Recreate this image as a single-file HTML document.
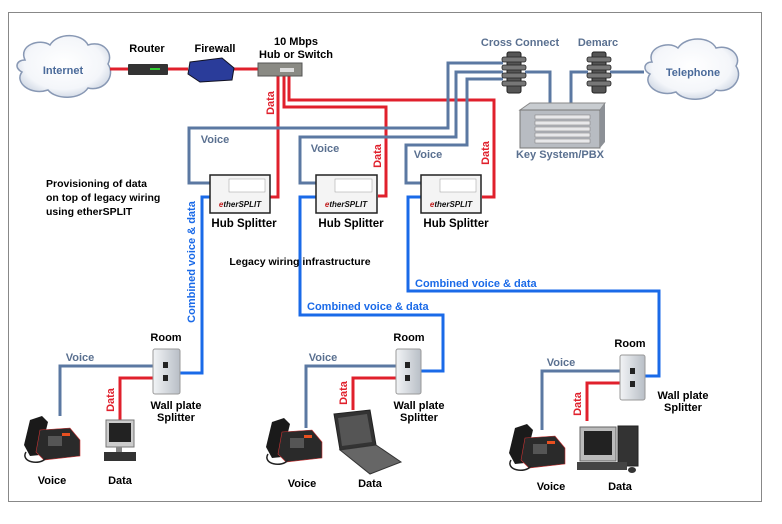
<!DOCTYPE html>
<html><head><meta charset="utf-8"><style>
html,body{margin:0;padding:0;background:#fff;}
svg{display:block;}
text{font-family:"Liberation Sans",sans-serif;font-weight:bold;}
</style></head><body>
<svg width="782" height="524" viewBox="0 0 782 524" xmlns="http://www.w3.org/2000/svg">
<defs>
<radialGradient id="cl" cx="50%" cy="45%" r="60%"><stop offset="0" stop-color="#fff"/><stop offset="0.7" stop-color="#f4f6fa"/><stop offset="1" stop-color="#c9d2e0"/></radialGradient>
<linearGradient id="pl" x1="0" x2="1"><stop offset="0" stop-color="#f2f4f6"/><stop offset="1" stop-color="#b8bec6"/></linearGradient>
</defs>
<rect x="0" y="0" width="782" height="524" fill="#fff"/>
<rect x="8.5" y="12.5" width="753" height="489" fill="none" stroke="#888" stroke-width="1"/>

<!-- clouds -->
<g fill="url(#cl)" stroke="#8898b4" stroke-width="1.5">
<path d="M25,60 C18,45 40,38 50,45 C58,32 82,33 88,45 C102,40 114,52 108,64 C116,76 104,92 88,88 C80,100 56,100 48,90 C30,96 14,82 22,72 C14,68 16,60 25,60 Z"/>
<path d="M652,62 C646,48 668,40 678,48 C686,36 710,36 716,48 C730,44 742,56 736,66 C744,78 732,94 716,90 C708,102 684,102 676,92 C658,98 642,84 650,74 C642,70 644,62 652,62 Z"/>
</g>
<text x="63" y="74" font-size="11" fill="#4a6a9a" text-anchor="middle" font-weight="normal" style="font-weight:bold">Internet</text>
<text x="693" y="76" font-size="11" fill="#4a6a9a" text-anchor="middle">Telephone</text>

<!-- red top chain -->
<g stroke="#e0202c" stroke-width="3" fill="none">
<line x1="110" y1="69" x2="128" y2="69"/><line x1="168" y1="69" x2="188" y2="69"/><line x1="232" y1="69" x2="258" y2="69"/>
<polyline points="278,75 278,197 270,197"/>
<polyline points="284,75 284,107 386,107 386,196 378,196"/>
<polyline points="289,75 289,100 494,100 494,197 482,197"/>
</g>
<!-- devices top -->
<rect x="128" y="64" width="40" height="11" fill="#333" rx="1"/><rect x="150" y="68" width="10" height="2" fill="#3c3"/>
<path d="M190,62 L222,58 L234,68 L232,80 L200,82 L188,74 Z" fill="#2a3c9a" stroke="#112" stroke-width="1"/>
<rect x="258" y="63" width="44" height="13" fill="#8a8a84" stroke="#555"/><rect x="280" y="68" width="14" height="4" fill="#ddd"/>
<text x="147" y="52" font-size="11" fill="#000" text-anchor="middle">Router</text>
<text x="215" y="52" font-size="11" fill="#000" text-anchor="middle">Firewall</text>
<text x="296" y="45" font-size="11" fill="#000" text-anchor="middle">10 Mbps</text>
<text x="296" y="58" font-size="11" fill="#000" text-anchor="middle">Hub or Switch</text>

<!-- voice lines -->
<g stroke="#5b78a2" stroke-width="3" fill="none">
<polyline points="503,63 448,63 448,128 189,128 189,183 210,183"/>
<polyline points="503,72 456,72 456,137 300,137 300,183 316,183"/>
<polyline points="503,79 467,79 467,145 406,145 406,183 422,183"/>
<polyline points="525,72 550,72 550,104"/>
<polyline points="588,72 571,72 571,104"/>
<line x1="610" y1="72" x2="644" y2="72"/>
<polyline points="153,366 60,366 60,416"/>
<polyline points="396,366 306,366 306,428"/>
<polyline points="620,371 542,371 542,430"/>
</g>
<!-- cross connect & demarc -->
<g fill="#555" stroke="#222">
<rect x="507" y="52" width="14" height="41" rx="2"/><rect x="592" y="52" width="14" height="41" rx="2"/>
</g>
<g fill="#777" stroke="#222" stroke-width="0.8">
<rect x="502" y="57" width="24" height="5" rx="2"/><rect x="502" y="65" width="24" height="5" rx="2"/><rect x="502" y="73" width="24" height="5" rx="2"/><rect x="502" y="81" width="24" height="5" rx="2"/>
<rect x="587" y="57" width="24" height="5" rx="2"/><rect x="587" y="65" width="24" height="5" rx="2"/><rect x="587" y="73" width="24" height="5" rx="2"/><rect x="587" y="81" width="24" height="5" rx="2"/>
</g>
<text x="520" y="46" font-size="11" fill="#5a7090" text-anchor="middle">Cross Connect</text>
<text x="598" y="46" font-size="11" fill="#5a7090" text-anchor="middle">Demarc</text>
<!-- PBX -->
<path d="M520,110 L530,103 L605,103 L600,110 Z" fill="#c8ccd0" stroke="#888"/>
<rect x="520" y="110" width="80" height="38" fill="#b8bcc2" stroke="#777"/>
<path d="M600,110 L605,103 L605,142 L600,148 Z" fill="#8c9096"/>
<g fill="#e8e8ea" stroke="#777" stroke-width="0.5"><rect x="535" y="115" width="55" height="4"/><rect x="535" y="121" width="55" height="4"/><rect x="535" y="127" width="55" height="4"/><rect x="535" y="133" width="55" height="4"/><rect x="535" y="139" width="55" height="4"/></g>
<text x="560" y="158" font-size="11" fill="#5a7090" text-anchor="middle">Key System/PBX</text>

<!-- voice / data labels upper -->
<text x="215" y="143" font-size="11" fill="#5a7090" text-anchor="middle">Voice</text>
<text x="325" y="152" font-size="11" fill="#5a7090" text-anchor="middle">Voice</text>
<text x="428" y="158" font-size="11" fill="#5a7090" text-anchor="middle">Voice</text>
<text transform="translate(274,103) rotate(-90)" font-size="11" fill="#e0202c" text-anchor="middle">Data</text>
<text transform="translate(381,156) rotate(-90)" font-size="11" fill="#e0202c" text-anchor="middle">Data</text>
<text transform="translate(489,153) rotate(-90)" font-size="11" fill="#e0202c" text-anchor="middle">Data</text>

<!-- blue lines -->
<g stroke="#1a6ae8" stroke-width="3" fill="none">
<polyline points="210,197 202,197 202,373 180,373"/>
<polyline points="316,197 300,197 300,315 443,315 443,371 420,371"/>
<polyline points="422,197 408,197 408,291 659,291 659,376 645,376"/>
</g>
<text transform="translate(195,262) rotate(-90)" font-size="11" fill="#1a6ae8" text-anchor="middle">Combined voice &amp; data</text>
<text x="307" y="310" font-size="11" fill="#1a6ae8">Combined voice &amp; data</text>
<text x="415" y="287" font-size="11" fill="#1a6ae8">Combined voice &amp; data</text>

<!-- hub splitters -->
<g>
<rect x="210" y="175" width="60" height="38" fill="#f4f4f4" stroke="#222" stroke-width="1.5"/>
<rect x="316" y="175" width="61" height="38" fill="#f4f4f4" stroke="#222" stroke-width="1.5"/>
<rect x="421" y="175" width="60" height="38" fill="#f4f4f4" stroke="#222" stroke-width="1.5"/>
<rect x="229" y="179" width="36" height="13" fill="#fff" stroke="#999" stroke-width="0.5"/>
<rect x="335" y="179" width="37" height="13" fill="#fff" stroke="#999" stroke-width="0.5"/>
<rect x="440" y="179" width="36" height="13" fill="#fff" stroke="#999" stroke-width="0.5"/>
<text x="240" y="207" font-size="8" fill="#111" text-anchor="middle" font-style="italic"><tspan fill="#c02020">e</tspan>therSPLIT</text>
<text x="346" y="207" font-size="8" fill="#111" text-anchor="middle" font-style="italic"><tspan fill="#c02020">e</tspan>therSPLIT</text>
<text x="451" y="207" font-size="8" fill="#111" text-anchor="middle" font-style="italic"><tspan fill="#c02020">e</tspan>therSPLIT</text>
</g>
<text x="244" y="227" font-size="11.5" fill="#000" text-anchor="middle">Hub Splitter</text>
<text x="351" y="227" font-size="11.5" fill="#000" text-anchor="middle">Hub Splitter</text>
<text x="456" y="227" font-size="11.5" fill="#000" text-anchor="middle">Hub Splitter</text>

<text x="46" y="187" font-size="10.5" fill="#000">Provisioning of data</text>
<text x="46" y="201" font-size="10.5" fill="#000">on top of legacy wiring</text>
<text x="46" y="215" font-size="10.5" fill="#000">using etherSPLIT</text>
<text x="300" y="265" font-size="10.5" fill="#000" text-anchor="middle">Legacy wiring infrastructure</text>

<!-- red lower -->
<g stroke="#e0202c" stroke-width="3" fill="none">
<polyline points="153,378 120,378 120,420"/>
<polyline points="396,378 353,378 353,410"/>
<polyline points="620,383 587,383 587,421"/>
</g>
<text transform="translate(114,400) rotate(-90)" font-size="11" fill="#e0202c" text-anchor="middle">Data</text>
<text transform="translate(347,393) rotate(-90)" font-size="11" fill="#e0202c" text-anchor="middle">Data</text>
<text transform="translate(581,404) rotate(-90)" font-size="11" fill="#e0202c" text-anchor="middle">Data</text>
<text x="80" y="361" font-size="11" fill="#5a7090" text-anchor="middle">Voice</text>
<text x="323" y="361" font-size="11" fill="#5a7090" text-anchor="middle">Voice</text>
<text x="561" y="366" font-size="11" fill="#5a7090" text-anchor="middle">Voice</text>

<!-- wall plates -->
<g fill="url(#pl)" stroke="#999">
<rect x="153" y="349" width="27" height="45" rx="2"/>
<rect x="396" y="349" width="25" height="45" rx="2"/>
<rect x="620" y="355" width="25" height="45" rx="2"/>
</g>
<g fill="#222">
<rect x="163" y="362" width="5" height="6"/><rect x="163" y="375" width="5" height="6"/>
<rect x="405" y="362" width="5" height="6"/><rect x="405" y="375" width="5" height="6"/>
<rect x="630" y="368" width="5" height="6"/><rect x="630" y="381" width="5" height="6"/>
</g>
<text x="166" y="341" font-size="11" fill="#000" text-anchor="middle">Room</text>
<text x="409" y="341" font-size="11" fill="#000" text-anchor="middle">Room</text>
<text x="630" y="347" font-size="11" fill="#000" text-anchor="middle">Room</text>
<text x="176" y="409" font-size="11" fill="#000" text-anchor="middle">Wall plate</text>
<text x="176" y="421" font-size="11" fill="#000" text-anchor="middle">Splitter</text>
<text x="419" y="409" font-size="11" fill="#000" text-anchor="middle">Wall plate</text>
<text x="419" y="421" font-size="11" fill="#000" text-anchor="middle">Splitter</text>
<text x="683" y="399" font-size="11" fill="#000" text-anchor="middle">Wall plate</text>
<text x="683" y="411" font-size="11" fill="#000" text-anchor="middle">Splitter</text>

<!-- phones -->
<g id="ph">
<path d="M30,420 L42,416 L48,422 L40,455 L30,456 L24,445 Z" fill="#1a1a1a"/>
<path d="M40,430 L70,428 L80,440 L80,456 L44,460 L36,452 Z" fill="#2a2a2a" stroke="#c33" stroke-width="0.6"/>
<rect x="48" y="436" width="14" height="10" fill="#555"/><rect x="62" y="433" width="8" height="3" fill="#e85020"/>
<path d="M26,452 C20,462 40,466 46,458" fill="none" stroke="#222" stroke-width="1.5"/>
</g>
<use href="#ph" transform="translate(242,2)"/>
<use href="#ph" transform="translate(485,8)"/>

<!-- monitor 1 -->
<rect x="106" y="420" width="28" height="27" fill="#ccc" stroke="#777"/><rect x="109" y="423" width="22" height="19" fill="#222"/>
<rect x="116" y="447" width="6" height="6" fill="#888"/><rect x="104" y="452" width="32" height="9" fill="#333"/>
<!-- laptop -->
<path d="M334,414 L370,410 L376,445 L340,450 Z" fill="#333" stroke="#222"/><path d="M338,418 L367,414 L372,442 L342,446 Z" fill="#555"/>
<path d="M340,450 L376,445 L401,462 L370,474 Z" fill="#666" stroke="#333"/>
<!-- desktop -->
<rect x="580" y="427" width="36" height="34" fill="#bbb" stroke="#666"/><rect x="584" y="431" width="28" height="24" fill="#222"/>
<rect x="618" y="426" width="20" height="40" fill="#333" stroke="#222"/>
<rect x="577" y="462" width="50" height="8" fill="#444"/><ellipse cx="632" cy="470" rx="4" ry="3" fill="#333"/>

<text x="52" y="484" font-size="11" fill="#000" text-anchor="middle">Voice</text>
<text x="120" y="484" font-size="11" fill="#000" text-anchor="middle">Data</text>
<text x="302" y="487" font-size="11" fill="#000" text-anchor="middle">Voice</text>
<text x="370" y="487" font-size="11" fill="#000" text-anchor="middle">Data</text>
<text x="551" y="490" font-size="11" fill="#000" text-anchor="middle">Voice</text>
<text x="620" y="490" font-size="11" fill="#000" text-anchor="middle">Data</text>
</svg>
</body></html>
